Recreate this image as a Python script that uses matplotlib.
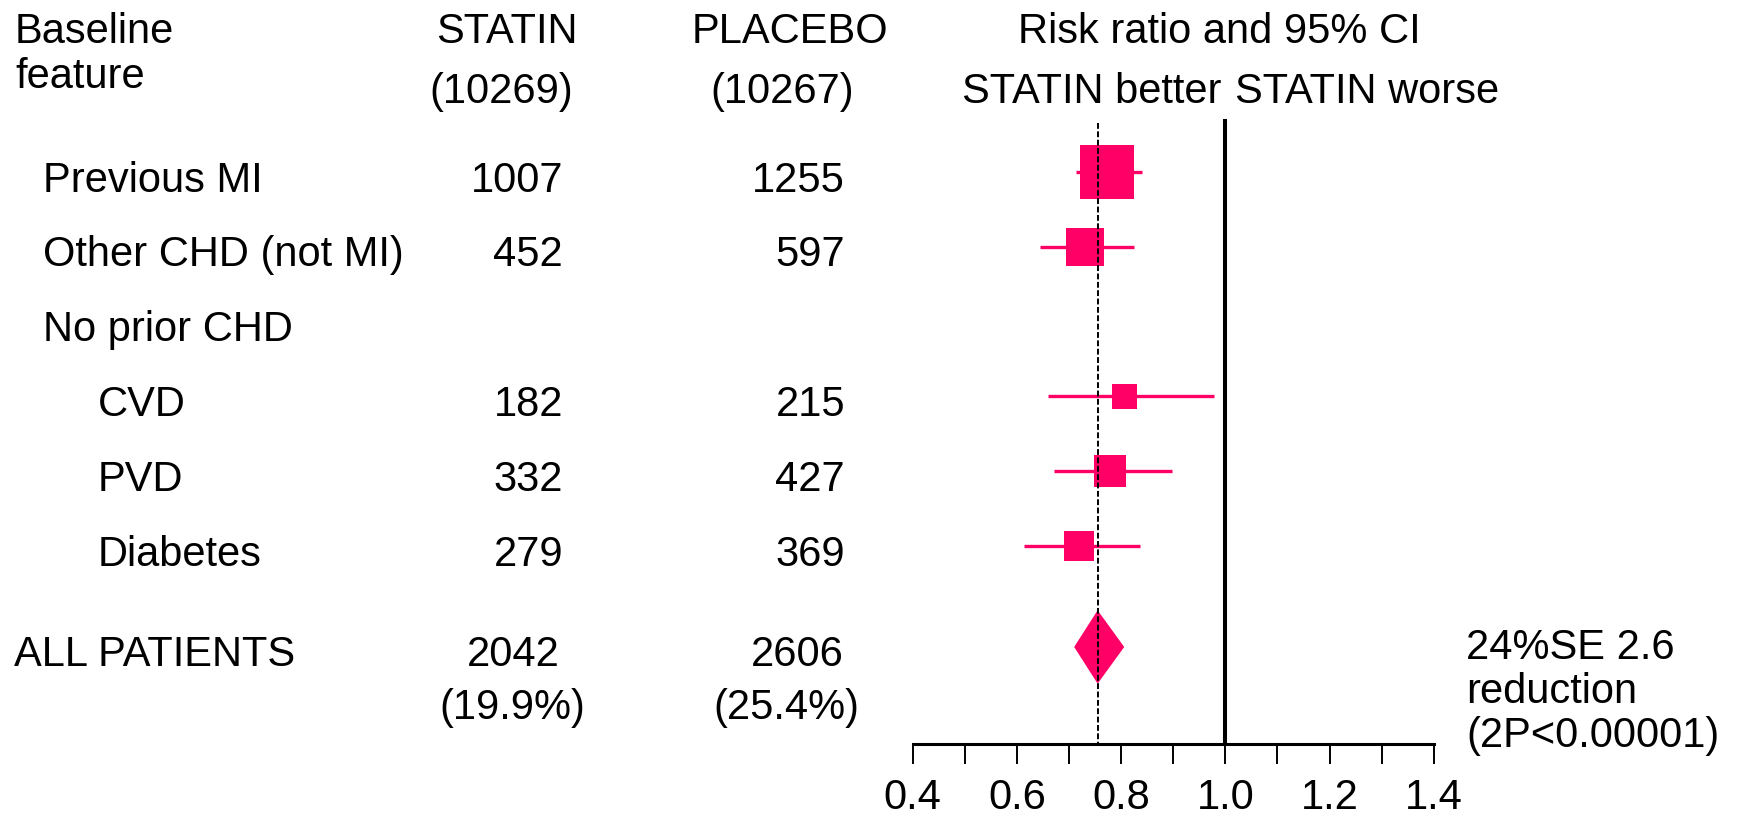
import matplotlib
matplotlib.use('Agg')
import matplotlib.pyplot as plt
from matplotlib.patches import Rectangle, Polygon

matplotlib.rcParams['font.family'] = ['Liberation Sans', 'DejaVu Sans']
matplotlib.rcParams['font.size'] = 30

# data
groups = ['Previous MI', 'Other CHD (not MI)', 'No prior CHD', 'CVD', 'PVD', 'Diabetes']
indent = [0, 0, 0, 1, 1, 1]
statin_events = ['1007', '452', '', '182', '332', '279']
placebo_events = ['1255', '597', '', '215', '427', '369']
rr = [0.773, 0.731, None, 0.806, 0.779, 0.719]
ci_lo = [0.713, 0.644, None, 0.660, 0.671, 0.614]
ci_hi = [0.840, 0.825, None, 0.978, 0.898, 0.837]

n_statin, n_placebo = '(10269)', '(10267)'
all_statin, all_placebo = '2042', '2606'
all_statin_pct, all_placebo_pct = '(19.9%)', '(25.4%)'
rr_all, lo_all, hi_all = 0.755, 0.710, 0.806

tick_values = [0.4, 0.5, 0.6, 0.7, 0.8, 0.9, 1.0, 1.1, 1.2, 1.3, 1.4]
tick_labels = ['0.4', '', '0.6', '', '0.8', '', '1.0', '', '1.2', '', '1.4']

# style / layout (pixels, y from top)
pink = '#ff0066'
W, H = 1742, 818
row0, row_step = 172, 74.8
all_row = 6.35
base_off = 19.5
box_px = [54, 38, None, 25, 32, 30]
x_left, x_right = 912.6, 1433.8
axis_y = 744

fig = plt.figure(figsize=(W / 100, H / 100), dpi=100)
ax = fig.add_axes([0, 0, 1, 1])
ax.set_xlim(0, W)
ax.set_ylim(H, 0)
ax.axis('off')

def txt(x, y, s, ha='left'):
    ax.text(x, y, s, ha=ha, va='baseline', color='black')

# header
txt(15, 43, 'Baseline')
txt(15, 88, 'feature')
txt(507, 43, 'STATIN', 'center')
txt(501, 103, n_statin, 'center')
txt(790, 43, 'PLACEBO', 'center')
txt(782, 103, n_placebo, 'center')
txt(1219, 43, 'Risk ratio and 95% CI', 'center')
txt(1221, 103, 'STATIN better', 'right')
txt(1235, 103, 'STATIN worse')

# forest axes, x in risk-ratio units, y in pixels
fx = fig.add_axes([x_left / W, 0, (x_right - x_left) / W, 1])
fx.set_xlim(0.4, 1.4)
fx.set_ylim(H, 0)
fx.patch.set_alpha(0)
for s in ['top', 'left', 'right']:
    fx.spines[s].set_visible(False)
fx.spines['bottom'].set_position(('data', axis_y))
fx.spines['bottom'].set_linewidth(2.2)
fx.set_yticks([])
fx.set_xticks(tick_values, labels=tick_labels)
fx.tick_params(axis='x', direction='out', length=14.5, width=1.4, pad=10, labelsize=30)

px_per_unit = x_right - x_left
for i, g in enumerate(groups):
    y = row0 + row_step * i
    txt(43 + 55 * indent[i], y + base_off, g)
    if statin_events[i]:
        txt(563, y + base_off, statin_events[i], 'right')
        txt(845, y + base_off, placebo_events[i], 'right')
    if rr[i] is None:
        continue
    fx.plot([ci_lo[i], ci_hi[i]], [y, y], color=pink, lw=2.4, solid_capstyle='butt', zorder=2)
    s = box_px[i]
    fx.add_patch(Rectangle((rr[i] - s / 2 / px_per_unit, y - s / 2), s / px_per_unit, s,
                           facecolor=pink, edgecolor='none', zorder=3))

# overall
ya = row0 + row_step * all_row
txt(14, ya + base_off, 'ALL PATIENTS')
txt(560, ya + base_off, all_statin, 'right')
txt(512, ya + base_off + 53, all_statin_pct, 'center')
txt(844, ya + base_off, all_placebo, 'right')
txt(786, ya + base_off + 53, all_placebo_pct, 'center')
fx.add_patch(Polygon([(lo_all, ya), (rr_all, ya - 36.7), (hi_all, ya), (rr_all, ya + 36.7)],
                     closed=True, facecolor=pink, edgecolor='none', zorder=3))

# reference lines
fx.plot([1.0, 1.0], [121, axis_y], color='black', lw=2.9, zorder=4)
fx.plot([rr_all, rr_all], [123, axis_y], color='black', lw=1.4, linestyle=(0, (3, 1.3)), zorder=5)

txt(1466, 659, '24%SE 2.6')
txt(1466, 703, 'reduction')
txt(1466, 747, '(2P<0.00001)')

fig.savefig('out.png', dpi=100)
